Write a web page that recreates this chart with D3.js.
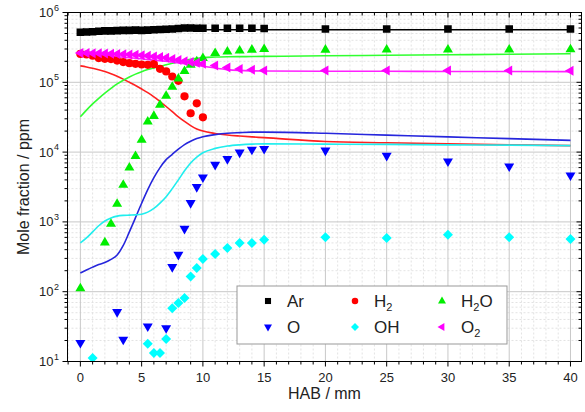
<!DOCTYPE html>
<html><head><meta charset="utf-8">
<script src="https://cdn.jsdelivr.net/npm/d3@7"></script>
<style>body{margin:0;background:#fff} svg{display:block;font-family:"Liberation Sans",Arial,sans-serif}</style>
</head><body><svg id="c" width="585" height="412"></svg>
<script>
// ---------- data ----------
const hab = [0,0.5,1,1.5,2,2.5,3,3.5,4,4.5,5,5.5,6,6.5,7,7.5,8,8.5,9,9.5,10,11,12,13,14,15,20,25,30,35,40];

// measured (symbols)
const arMeas  = [5.2e5,5.25e5,5.3e5,5.4e5,5.45e5,5.45e5,5.5e5,5.55e5,5.55e5,5.6e5,5.55e5,5.6e5,5.65e5,5.7e5,5.75e5,5.8e5,5.9e5,6.0e5,6.0e5,5.95e5,5.95e5,5.95e5,5.95e5,5.95e5,5.95e5,5.9e5,5.8e5,5.8e5,5.8e5,5.8e5,5.8e5];
const h2Meas  = [2.55e5,2.5e5,2.4e5,2.22e5,2.17e5,2.15e5,2.05e5,1.95e5,1.88e5,1.84e5,1.8e5,1.78e5,1.82e5,1.56e5,1.43e5,1.21e5,1.05e5,6.3e4,3.6e4,5.0e4,3.15e4,null,null,null,null,null,null,null,null,null,null];
const h2oMeas = [112,null,null,null,508,940,1815,3400,6000,8800,1.5e4,2.74e4,3.3e4,4.77e4,6.4e4,8.6e4,1.13e5,1.45e5,1.78e5,2.0e5,2.22e5,2.62e5,2.76e5,2.85e5,2.93e5,2.99e5,2.93e5,2.95e5,2.95e5,2.95e5,2.97e5];
const oMeas   = [18.4,null,null,null,null,null,51,20.5,null,null,null,31.8,null,null,30,225,338,796,1860,3150,4330,6580,7940,9860,1.08e4,1.11e4,1.05e4,8850,7330,6220,4620];
const ohMeas  = [null,null,11.2,null,null,null,null,null,null,null,null,17.9,13.2,13.2,21,58,68.7,81,165,218,293,346,422,497,497,555,605,586,653,605,568];
const o2Meas  = [2.62e5,2.62e5,2.6e5,2.6e5,2.58e5,2.56e5,2.55e5,2.53e5,2.5e5,2.48e5,2.45e5,2.4e5,2.35e5,2.3e5,2.25e5,2.15e5,2.08e5,2.0e5,1.95e5,1.9e5,1.85e5,1.74e5,1.63e5,1.55e5,1.51e5,1.48e5,1.48e5,1.47e5,1.47e5,1.47e5,1.46e5];

// simulated (lines)
const arSim  = [5.65e5,5.65e5,5.65e5,5.65e5,5.65e5,5.65e5,5.65e5,5.65e5,5.65e5,5.65e5,5.65e5,5.65e5,5.65e5,5.65e5,5.65e5,5.65e5,5.65e5,5.65e5,5.65e5,5.65e5,5.65e5,5.65e5,5.65e5,5.65e5,5.65e5,5.65e5,5.65e5,5.65e5,5.65e5,5.65e5,5.65e5];
const h2Sim  = [1.72e5,1.66e5,1.59e5,1.51e5,1.43e5,1.33e5,1.22e5,1.11e5,1.0e5,9.0e4,8.0e4,7.1e4,6.2e4,5.3e4,4.5e4,3.8e4,3.2e4,2.75e4,2.4e4,2.15e4,2.0e4,1.85e4,1.76e4,1.7e4,1.65e4,1.61e4,1.42e4,1.36e4,1.31e4,1.27e4,1.24e4];
const h2oSim = [3.2e4,4.0e4,4.9e4,5.9e4,7.0e4,8.2e4,9.5e4,1.07e5,1.19e5,1.31e5,1.42e5,1.52e5,1.61e5,1.7e5,1.78e5,1.87e5,1.96e5,2.05e5,2.13e5,2.2e5,2.26e5,2.3e5,2.32e5,2.33e5,2.34e5,2.35e5,2.4e5,2.44e5,2.48e5,2.52e5,2.56e5];
const oSim   = [185,205,225,245,262,290,335,460,720,1150,1850,2900,4300,6000,7800,9300,11000,12800,14300,15600,16600,17800,18600,19000,19300,19300,18600,17500,16500,15600,14700];
const ohSim  = [500,590,720,880,1030,1140,1210,1240,1250,1260,1290,1380,1560,1860,2300,3000,4000,5400,7000,8500,9800,11300,12200,12700,13000,13100,13000,12900,12700,12600,12400];
const o2Sim  = [2.6e5,2.55e5,2.5e5,2.46e5,2.42e5,2.37e5,2.33e5,2.29e5,2.25e5,2.21e5,2.17e5,2.12e5,2.08e5,2.04e5,2.0e5,1.95e5,1.9e5,1.85e5,1.8e5,1.75e5,1.7e5,1.6e5,1.52e5,1.48e5,1.46e5,1.45e5,1.44e5,1.44e5,1.43e5,1.43e5,1.42e5];

const xTicks = [0,5,10,15,20,25,30,35,40];
const yTickExp = [1,2,3,4,5,6];
const xTitle = "HAB / mm";
const yTitle = "Mole fraction / ppm";

// ---------- series table ----------
const series = [
  {name:"Ar",  meas:arMeas,  sim:arSim,  color:"#000000", line:"#000000", sym:"square"},
  {name:"H2",  meas:h2Meas,  sim:h2Sim,  color:"#ff0000", line:"#ff2020", sym:"circle"},
  {name:"H2O", meas:h2oMeas, sim:h2oSim, color:"#00ee00", line:"#30ff30", sym:"up"},
  {name:"O",   meas:oMeas,   sim:oSim,   color:"#0000ff", line:"#2626dc", sym:"down"},
  {name:"OH",  meas:ohMeas,  sim:ohSim,  color:"#00ffff", line:"#20eeee", sym:"diamond"},
  {name:"O2",  meas:o2Meas,  sim:o2Sim,  color:"#ff00ff", line:"#ff20ff", sym:"left"}
];

// ---------- layout ----------
const L = 67.5, R = 581.5, T = 12.5, B = 361.5;
const svg = d3.select("#c");
const x = d3.scaleLinear().domain([-1.05, 40.9]).range([L, R]);
const y = d3.scaleLog().domain([10, 1e6]).range([B, T]);

const symPath = {
  square: "M-3.8,-3.8h7.6v7.6h-7.6Z",
  circle: "M4.1,0A4.1,4.1,0,1,1,-4.1,0A4.1,4.1,0,1,1,4.1,0Z",
  up: "M0,-5.6L5,3L-5,3Z",
  down: "M0,5.6L5,-3L-5,-3Z",
  diamond: "M0,-5L5,0L0,5L-5,0Z",
  left: "M-5.6,0L3,-5L3,5Z"
};

// grid
const minorX = d3.range(-1, 41, 1).filter(v => v % 5 !== 0);
const minorY = [];
for (let e = 1; e < 6; e++) for (let m = 2; m <= 9; m++) minorY.push(m * Math.pow(10, e));
const majorY = yTickExp.map(e => Math.pow(10, e));

const grid = svg.append("g");
grid.selectAll(".gxm").data(minorX).join("line")
  .attr("x1", d => x(d)).attr("x2", d => x(d)).attr("y1", T).attr("y2", B)
  .attr("stroke", "#dcdcdc").attr("stroke-width", 0.8).attr("stroke-dasharray", "2,2");
grid.selectAll(".gym").data(minorY).join("line")
  .attr("y1", d => y(d)).attr("y2", d => y(d)).attr("x1", L).attr("x2", R)
  .attr("stroke", "#dcdcdc").attr("stroke-width", 0.8).attr("stroke-dasharray", "2,2");
grid.selectAll(".gxM").data(xTicks).join("line")
  .attr("x1", d => x(d)).attr("x2", d => x(d)).attr("y1", T).attr("y2", B)
  .attr("stroke", "#c8c8c8").attr("stroke-width", 1);
grid.selectAll(".gyM").data(majorY).join("line")
  .attr("y1", d => y(d)).attr("y2", d => y(d)).attr("x1", L).attr("x2", R)
  .attr("stroke", "#c8c8c8").attr("stroke-width", 1);

// clip
svg.append("clipPath").attr("id", "clip").append("rect")
  .attr("x", L).attr("y", T).attr("width", R - L).attr("height", B - T);
const plot = svg.append("g").attr("clip-path", "url(#clip)");

// lines
const lineGen = d3.line().defined(d => d[1] != null)
  .x(d => x(d[0])).y(d => y(d[1])).curve(d3.curveMonotoneX);
series.forEach(s => {
  plot.append("path").datum(hab.map((h, i) => [h, s.sim[i]]))
    .attr("d", lineGen).attr("fill", "none").attr("stroke", s.line).attr("stroke-width", 1.6);
});

// markers
series.forEach(s => {
  const pts = hab.map((h, i) => [h, s.meas[i]]).filter(d => d[1] != null);
  plot.selectAll(null).data(pts).join("path")
    .attr("d", symPath[s.sym])
    .attr("transform", d => `translate(${x(d[0])},${y(d[1])})`)
    .attr("fill", s.color);
});

// frame
svg.append("rect").attr("x", L).attr("y", T).attr("width", R - L).attr("height", B - T)
  .attr("fill", "none").attr("stroke", "#000").attr("stroke-width", 1);

// ticks
const tk = svg.append("g").attr("stroke", "#000").attr("stroke-width", 1);
xTicks.forEach(v => {
  tk.append("line").attr("x1", x(v)).attr("x2", x(v)).attr("y1", B).attr("y2", B + 5);
  tk.append("line").attr("x1", x(v)).attr("x2", x(v)).attr("y1", T).attr("y2", T + 5);
});
minorX.forEach(v => {
  tk.append("line").attr("x1", x(v)).attr("x2", x(v)).attr("y1", B).attr("y2", B + 3);
  tk.append("line").attr("x1", x(v)).attr("x2", x(v)).attr("y1", T).attr("y2", T + 3);
});
majorY.forEach(v => {
  tk.append("line").attr("y1", y(v)).attr("y2", y(v)).attr("x1", L - 5).attr("x2", L);
  tk.append("line").attr("y1", y(v)).attr("y2", y(v)).attr("x1", R - 5).attr("x2", R);
});
minorY.forEach(v => {
  tk.append("line").attr("y1", y(v)).attr("y2", y(v)).attr("x1", L - 3).attr("x2", L);
  tk.append("line").attr("y1", y(v)).attr("y2", y(v)).attr("x1", R - 3).attr("x2", R);
});

// tick labels
svg.selectAll(".xl").data(xTicks).join("text")
  .attr("x", d => x(d)).attr("y", B + 20).attr("text-anchor", "middle")
  .attr("font-size", 13).attr("fill", "#222").text(d => d);
yTickExp.forEach(e => {
  const t = svg.append("text").attr("x", L - 14).attr("y", y(Math.pow(10, e)) + 4.5)
    .attr("text-anchor", "end").attr("font-size", 13).attr("fill", "#222");
  t.append("tspan").text("10");
  svg.append("text").attr("x", L - 13.5).attr("y", y(Math.pow(10, e)) - 2)
    .attr("font-size", 9).attr("fill", "#222").text(e);
});

// axis titles
svg.append("text").attr("x", (L + R) / 2).attr("y", 399).attr("text-anchor", "middle")
  .attr("font-size", 16).attr("fill", "#222").text(xTitle);
svg.append("text").attr("transform", `translate(29,${(T + B) / 2}) rotate(-90)`)
  .attr("text-anchor", "middle").attr("font-size", 16).attr("fill", "#222").text(yTitle);

// legend
const lg = svg.append("g");
lg.append("rect").attr("x", 237).attr("y", 286).attr("width", 270).attr("height", 58)
  .attr("fill", "#fff").attr("stroke", "#999").attr("stroke-width", 1);
const legPos = [[268, 301], [355, 301], [442, 301], [268, 327], [355, 327], [442, 327]];
const legOrder = ["Ar", "H2", "H2O", "O", "OH", "O2"];
legOrder.forEach((nm, i) => {
  const s = series.find(d => d.name === nm);
  const [lx, ly] = legPos[i];
  lg.append("path").attr("d", symPath[s.sym]).attr("transform", `translate(${lx},${ly}) scale(0.8)`).attr("fill", s.color);
  const t = lg.append("text").attr("x", lx + 19).attr("y", ly + 6).attr("font-size", 17).attr("fill", "#222");
  const m = nm.match(/^([A-Z][a-z]?)(\d)?(.*)$/);
  if (nm === "H2O") {
    t.append("tspan").text("H");
    t.append("tspan").attr("font-size", 11).attr("dy", 4).text("2");
    t.append("tspan").attr("dy", -4).text("O");
  } else if (m[2]) {
    t.append("tspan").text(m[1]);
    t.append("tspan").attr("font-size", 11).attr("dy", 4).text(m[2]);
  } else {
    t.text(nm);
  }
});
</script></body></html>
